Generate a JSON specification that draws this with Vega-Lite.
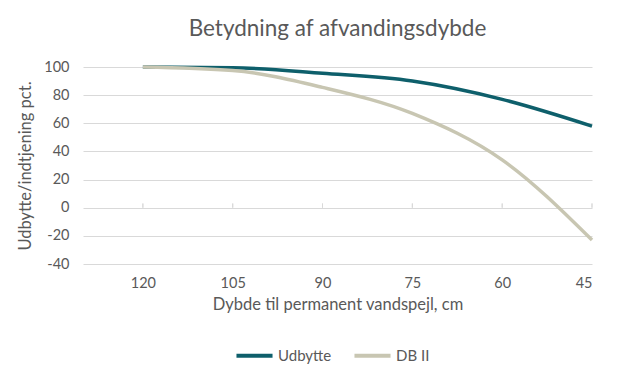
{
  "$schema": "https://vega.github.io/schema/vega-lite/v6.json",
  "autosize": "none",
  "width": 509,
  "height": 197,
  "padding": {"left": 83, "top": 67, "right": 48, "bottom": 121},
  "background": "white",
  "config": {
    "view": {"stroke": null},
    "font": "Lato",
    "axis": {"labelColor": "#595959", "titleColor": "#595959", "labelFont": "Lato", "titleFont": "Lato"}
  },
  "title": {
    "text": "Betydning af afvandingsdybde",
    "fontSize": 22.5,
    "font": "Lato",
    "fontWeight": "normal",
    "color": "#595959",
    "anchor": "middle",
    "offset": 19
  },
  "data": {
    "values": [
      {"dybde": 120, "serie": "Udbytte", "pct": 100},
      {"dybde": 105, "serie": "Udbytte", "pct": 99.5},
      {"dybde": 90, "serie": "Udbytte", "pct": 95.5},
      {"dybde": 75, "serie": "Udbytte", "pct": 90},
      {"dybde": 60, "serie": "Udbytte", "pct": 77},
      {"dybde": 45, "serie": "Udbytte", "pct": 58},
      {"dybde": 120, "serie": "DB II", "pct": 100},
      {"dybde": 105, "serie": "DB II", "pct": 97.5},
      {"dybde": 90, "serie": "DB II", "pct": 85.5},
      {"dybde": 75, "serie": "DB II", "pct": 67},
      {"dybde": 60, "serie": "DB II", "pct": 34},
      {"dybde": 45, "serie": "DB II", "pct": -23}
    ]
  },
  "encoding": {
    "x": {
      "field": "dybde",
      "type": "quantitative",
      "scale": {"domain": [45, 130], "reverse": true, "nice": false, "zero": false},
      "axis": {
        "values": [120, 105, 90, 75, 60, 45],
        "grid": false,
        "domain": false,
        "ticks": false,
        "labelFontSize": 14.5,
        "labelPadding": 12,
        "labelOverlap": false,
        "title": "Dybde til permanent vandspejl, cm",
        "titleFontSize": 16.5,
        "titleFontWeight": "normal",
        "titlePadding": 7
      }
    }
  },
  "layer": [
    {
      "mark": {"type": "line", "strokeWidth": 3.5, "interpolate": "monotone", "strokeCap": "butt"},
      "encoding": {
        "y": {
          "field": "pct",
          "type": "quantitative",
          "scale": {"domain": [-40, 100], "nice": false, "zero": false},
          "axis": {
            "values": [-40, -20, 0, 20, 40, 60, 80, 100],
            "labelExpr": "'' + datum.value",
            "labelOverlap": false,
            "labelFlush": false,
            "grid": true,
            "gridColor": "#D9D9D9",
            "gridWidth": 1,
            "domain": false,
            "ticks": false,
            "labelFontSize": 14.5,
            "labelPadding": 14,
            "title": "Udbytte/indtjening pct.",
            "titleFontSize": 16.5,
            "titleFontWeight": "normal",
            "titlePadding": 10
          }
        },
        "color": {
          "field": "serie",
          "type": "nominal",
          "scale": {"domain": ["Udbytte", "DB II"], "range": ["#0E5F6B", "#C8C6B2"]},
          "legend": {
            "title": null,
            "orient": "none",
            "direction": "horizontal",
            "legendX": 151,
            "legendY": 268,
            "symbolType": "stroke",
            "symbolSize": 1300,
            "symbolStrokeWidth": 4,
            "labelFontSize": 15,
            "labelColor": "#595959",
            "labelFont": "Lato",
            "labelOffset": 3,
            "columnPadding": 14
          }
        }
      }
    },
    {
      "mark": {"type": "rule", "color": "#D9D9D9", "strokeWidth": 1},
      "encoding": {
        "y": {
          "datum": 0,
          "type": "quantitative",
          "scale": {"domain": [-40, 100], "nice": false, "zero": false},
          "axis": {
            "values": [-40, -20, 0, 20, 40, 60, 80, 100],
            "labelExpr": "'' + datum.value",
            "labelOverlap": false,
            "labelFlush": false,
            "grid": true,
            "gridColor": "#D9D9D9",
            "gridWidth": 1,
            "domain": false,
            "ticks": false,
            "labelFontSize": 14.5,
            "labelPadding": 14,
            "title": "Udbytte/indtjening pct.",
            "titleFontSize": 16.5,
            "titleFontWeight": "normal",
            "titlePadding": 10
          }
        },
        "y2": {"datum": 3}
      }
    }
  ]
}
